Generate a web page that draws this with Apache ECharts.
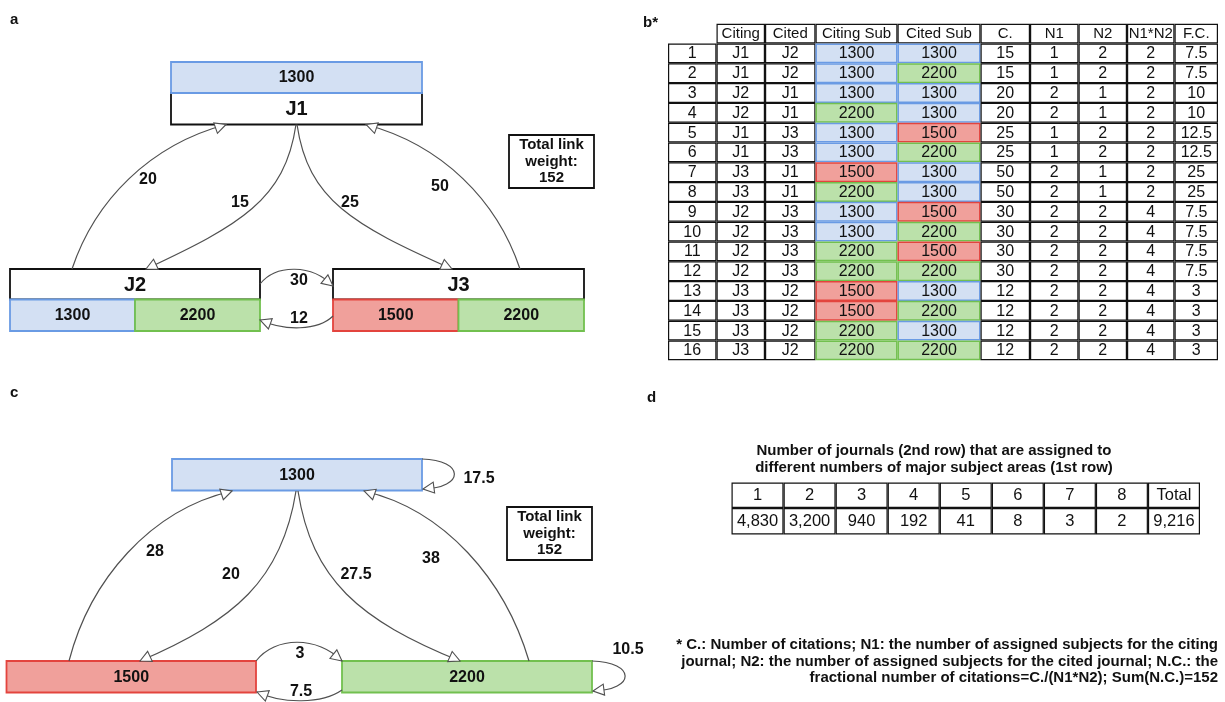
<!DOCTYPE html>
<html><head><meta charset="utf-8">
<script src="https://cdn.jsdelivr.net/npm/echarts@6/dist/echarts.min.js"></script>
<style>html,body{margin:0;padding:0;background:#fff}#c{width:1225px;height:702px}</style>
</head><body><div id="c"></div>
<script>
// ================= DATA =================
// panel b table
const tableHeaders = ['Citing', 'Cited', 'Citing Sub', 'Cited Sub', 'C.', 'N1', 'N2', 'N1*N2', 'F.C.'];
const rowIds = [1, 2, 3, 4, 5, 6, 7, 8, 9, 10, 11, 12, 13, 14, 15, 16];
const citingJournal = ['J1','J1','J2','J2','J1','J1','J3','J3','J2','J2','J2','J2','J3','J3','J3','J3'];
const citedJournal  = ['J2','J2','J1','J1','J3','J3','J1','J1','J3','J3','J3','J3','J2','J2','J2','J2'];
const citingSubject = [1300,1300,1300,2200,1300,1300,1500,2200,1300,1300,2200,2200,1500,1500,2200,2200];
const citedSubject  = [1300,2200,1300,1300,1500,2200,1300,1300,1500,2200,1500,2200,1300,2200,1300,2200];
const citations = [15,15,20,20,25,25,50,50,30,30,30,30,12,12,12,12];
const n1 = [1,1,2,2,1,1,2,2,2,2,2,2,2,2,2,2];
const n2 = [2,2,1,1,2,2,1,1,2,2,2,2,2,2,2,2];
const n1n2 = [2,2,2,2,2,2,2,2,4,4,4,4,4,4,4,4];
const fractionalCitations = ['7.5','7.5','10','10','12.5','12.5','25','25','7.5','7.5','7.5','7.5','3','3','3','3'];

// panel a journal network
const journals = ['J1', 'J2', 'J3'];
const journalSubjects = [[1300], [1300, 2200], [1500, 2200]];
const journalLinkFrom = ['J2', 'J1', 'J1', 'J3', 'J2', 'J3'];
const journalLinkTo   = ['J1', 'J2', 'J3', 'J1', 'J3', 'J2'];
const journalLinkWeight = ['20', '15', '25', '50', '30', '12'];
const totalLinkWeight = 152;

// panel c subject network
const subjects = [1300, 1500, 2200];
const subjectLinkFrom = [1500, 1300, 1300, 2200, 1500, 2200, 1300, 2200];
const subjectLinkTo   = [1300, 1500, 2200, 1300, 2200, 1500, 1300, 2200];
const subjectLinkWeight = ['28', '20', '27.5', '38', '3', '7.5', '17.5', '10.5'];

// panel d
const subjectAreaCounts = ['1', '2', '3', '4', '5', '6', '7', '8', 'Total'];
const journalCounts = ['4,830', '3,200', '940', '192', '41', '8', '3', '2', '9,216'];
const dTitle = ['Number of journals (2nd row) that are assigned to', 'different numbers of major subject areas (1st row)'];
const footnote = [
  '* C.: Number of citations; N1: the number of assigned subjects for the citing',
  'journal; N2: the number of assigned subjects for the cited journal; N.C.: the',
  'fractional number of citations=C./(N1*N2); Sum(N.C.)=152'
];

// ================= LAYOUT / STYLE =================
const FONT = '"Liberation Sans", Arial, Helvetica, sans-serif';
const TXT = '#111';
const LINK = '#505050';
const SUB_STYLE = {
  1300: { fill: '#d3e0f3', stroke: '#6a9be4' },
  1500: { fill: '#f0a09b', stroke: '#e3443e' },
  2200: { fill: '#bbe1aa', stroke: '#72c04f' }
};
const journalBoxLayout = {
  J1: { x0: 171, x1: 422, name: [93, 124.5], sub: [62, 93] },
  J2: { x0: 10, x1: 260, name: [269, 299.5], sub: [299.5, 331] },
  J3: { x0: 333, x1: 584, name: [269, 299.5], sub: [299.5, 331] }
};
const journalEdgeGeom = [
  { p: [[72, 269], [95, 200], [150, 145], [226, 124.5]], lab: [148, 180] },
  { p: [[296, 124.5], [285, 200], [240, 225], [146, 269]], lab: [240, 203] },
  { p: [[297, 124.5], [308, 200], [353, 225], [452, 269]], lab: [350, 203] },
  { p: [[520, 269], [497, 200], [442, 145], [366, 124.5]], lab: [440, 187] },
  { p: [[260, 284], [276, 264], [312, 264], [333, 286]], lab: [299, 281] },
  { p: [[333, 316], [318, 331], [284, 331], [260, 320]], lab: [299, 319] }
];
const subjectBoxLayout = {
  1300: { x0: 172, x1: 422, y0: 459, y1: 490.5 },
  1500: { x0: 6.5, x1: 256, y0: 661, y1: 692.5 },
  2200: { x0: 342, x1: 592, y0: 661, y1: 692.5 }
};
const subjectEdgeGeom = [
  { p: [[69, 661], [90, 580], [150, 510], [232, 491]], lab: [155, 552] },
  { p: [[296, 491], [282, 580], [235, 620], [140, 661]], lab: [231, 575] },
  { p: [[298, 491], [312, 580], [359, 620], [460, 661]], lab: [356, 575] },
  { p: [[529, 661], [505, 580], [445, 510], [364, 491]], lab: [431, 559] },
  { p: [[256, 661], [275, 636], [318, 636], [342, 661]], lab: [300, 654] },
  { p: [[342, 690], [322, 704], [282, 704], [257, 692]], lab: [301, 692] },
  { p: [[422, 459], [465, 460], [465, 488], [423, 489]], lab: [479, 479] },
  { p: [[592, 661], [636, 662], [636, 690], [593, 691]], lab: [628, 650] }
];
const tableB = { colEdges: [668, 716.5, 765, 815.5, 897.5, 980.5, 1030, 1078.5, 1127, 1174.5, 1218], top: 23.7, rowH: 19.8 };
const tableD = { x0: 731.5, x1: 1200, rows: [482.5, 508, 534.5] };

// ================= HELPERS =================
function txt(api, x, y, s, size, weight, align) {
  const p = api.coord([x, y]);
  return { type: 'text', style: { text: String(s), x: p[0], y: p[1], fill: TXT, fontSize: size,
    fontWeight: weight || 'normal', fontFamily: FONT, align: align || 'center', verticalAlign: 'middle' } };
}
function rct(api, x0, y0, x1, y1, fill, stroke, lw) {
  const a = api.coord([x0, y0]), b = api.coord([x1, y1]);
  return { type: 'rect', shape: { x: Math.min(a[0], b[0]), y: Math.min(a[1], b[1]),
    width: Math.abs(b[0] - a[0]), height: Math.abs(b[1] - a[1]) },
    style: { fill: fill, stroke: stroke, lineWidth: lw } };
}
function bez(q, t) {
  const u = 1 - t;
  return [u*u*u*q[0][0] + 3*u*u*t*q[1][0] + 3*u*t*t*q[2][0] + t*t*t*q[3][0],
          u*u*u*q[0][1] + 3*u*u*t*q[1][1] + 3*u*t*t*q[2][1] + t*t*t*q[3][1]];
}
function edgeEl(api, geom, label) {
  const q = geom.p.map(pt => api.coord(pt));
  const tip = q[3], prev = bez(q, 0.85);
  let dx = tip[0] - prev[0], dy = tip[1] - prev[1];
  const n = Math.hypot(dx, dy) || 1; dx /= n; dy /= n;
  const L = 11, W = 5.5;
  const bx = tip[0] - dx * L, by = tip[1] - dy * L;
  return { type: 'group', children: [
    { type: 'bezierCurve', shape: { x1: q[0][0], y1: q[0][1], cpx1: q[1][0], cpy1: q[1][1],
      cpx2: q[2][0], cpy2: q[2][1], x2: q[3][0], y2: q[3][1] },
      style: { stroke: LINK, fill: null, lineWidth: 1.2 } },
    { type: 'polygon', shape: { points: [tip, [bx - dy * W, by + dx * W], [bx + dy * W, by - dx * W]] },
      style: { fill: '#fff', stroke: LINK, lineWidth: 1.1 } },
    txt(api, geom.lab[0], geom.lab[1], label, 16, 'bold')
  ] };
}
const idxData = n => Array.from({ length: n }, (_, i) => [i, 0]);

// ================= SERIES =================
const journalBoxes = {
  type: 'custom', coordinateSystem: 'cartesian2d', silent: true, z: 3,
  data: idxData(journals.length),
  renderItem: (params, api) => {
    const j = journals[params.dataIndex], lay = journalBoxLayout[j];
    const subs = journalSubjects[params.dataIndex];
    const ch = [];
    ch.push(rct(api, lay.x0, lay.name[0], lay.x1, lay.name[1], '#fff', '#111', 1.8));
    ch.push(txt(api, (lay.x0 + lay.x1) / 2, (lay.name[0] + lay.name[1]) / 2 + 1, j, 20, 'bold'));
    const w = (lay.x1 - lay.x0) / subs.length;
    subs.forEach((s, k) => {
      const x0 = lay.x0 + k * w, x1 = x0 + w, st = SUB_STYLE[s];
      ch.push(rct(api, x0, lay.sub[0], x1, lay.sub[1], st.fill, st.stroke, 1.8));
      ch.push(txt(api, (x0 + x1) / 2, (lay.sub[0] + lay.sub[1]) / 2 + 0.5, s, 16, 'bold'));
    });
    return { type: 'group', children: ch };
  }
};
const journalEdges = {
  type: 'custom', coordinateSystem: 'cartesian2d', silent: true, z: 4,
  data: idxData(journalLinkWeight.length),
  renderItem: (params, api) => edgeEl(api, journalEdgeGeom[params.dataIndex], journalLinkWeight[params.dataIndex])
};
const subjectBoxes = {
  type: 'custom', coordinateSystem: 'cartesian2d', silent: true, z: 3,
  data: idxData(subjects.length),
  renderItem: (params, api) => {
    const s = subjects[params.dataIndex], lay = subjectBoxLayout[s], st = SUB_STYLE[s];
    return { type: 'group', children: [
      rct(api, lay.x0, lay.y0, lay.x1, lay.y1, st.fill, st.stroke, 1.8),
      txt(api, (lay.x0 + lay.x1) / 2, (lay.y0 + lay.y1) / 2 + 0.5, s, 16, 'bold')
    ] };
  }
};
const subjectEdges = {
  type: 'custom', coordinateSystem: 'cartesian2d', silent: true, z: 4,
  data: idxData(subjectLinkWeight.length),
  renderItem: (params, api) => edgeEl(api, subjectEdgeGeom[params.dataIndex], subjectLinkWeight[params.dataIndex])
};
const columnsB = [rowIds, citingJournal, citedJournal, citingSubject, citedSubject, citations, n1, n2, n1n2, fractionalCitations];
const cellsB = [];
for (let c = 1; c < 10; c++) cellsB.push([c, -1]);
for (let r = 0; r < rowIds.length; r++) for (let c = 0; c < 10; c++) cellsB.push([c, r]);
const tableBSeries = {
  type: 'custom', coordinateSystem: 'cartesian2d', silent: true, z: 2,
  data: cellsB.map((d, i) => [i, 0]),
  renderItem: (params, api) => {
    const [c, r] = cellsB[params.dataIndex];
    const x0 = tableB.colEdges[c], x1 = tableB.colEdges[c + 1];
    const y0 = tableB.top + (r + 1) * tableB.rowH, y1 = y0 + tableB.rowH;
    let label, fill = '#fff', stroke = '#111';
    if (r < 0) label = tableHeaders[c - 1];
    else {
      label = columnsB[c][r];
      if (c === 3 || c === 4) { fill = SUB_STYLE[label].fill; stroke = SUB_STYLE[label].stroke; }
    }
    const black = stroke === '#111';
    const inset = black ? 0.6 : 0.7;
    return { type: 'group', z2: black ? 1 : 2, children: [
      rct(api, x0 + inset, y0 + inset, x1 - inset, y1 - inset, fill, stroke, black ? 1.2 : 1.5),
      txt(api, (x0 + x1) / 2, (y0 + y1) / 2 + 0.5, label, r < 0 ? 15 : 16, 'normal')
    ] };
  }
};
const cellsD = [];
for (let r = 0; r < 2; r++) for (let c = 0; c < subjectAreaCounts.length; c++) cellsD.push([c, r]);
const tableDSeries = {
  type: 'custom', coordinateSystem: 'cartesian2d', silent: true, z: 2,
  data: cellsD.map((d, i) => [i, 0]),
  renderItem: (params, api) => {
    const [c, r] = cellsD[params.dataIndex];
    const w = (tableD.x1 - tableD.x0) / subjectAreaCounts.length;
    const x0 = tableD.x0 + c * w, x1 = x0 + w, y0 = tableD.rows[r], y1 = tableD.rows[r + 1];
    const label = r === 0 ? subjectAreaCounts[c] : journalCounts[c];
    return { type: 'group', children: [
      rct(api, x0 + 0.6, y0 + 0.6, x1 - 0.6, y1 - 0.6, '#fff', '#111', 1.2),
      txt(api, (x0 + x1) / 2, (y0 + y1) / 2 + 0.5, label, 16.5, 'normal')
    ] };
  }
};
const textItems = [];
function gText(x, y, s, size, weight, align) {
  textItems.push({ type: 'text', x: x, y: y, silent: true, style: { text: s, fill: TXT, fontSize: size,
    fontWeight: weight, fontFamily: FONT, textAlign: align || 'left', textVerticalAlign: 'middle' } });
}
gText(10, 20, 'a', 15, 'bold');
gText(643, 23, 'b*', 15, 'bold');
gText(10, 393, 'c', 15, 'bold');
gText(647, 398, 'd', 15, 'bold');
dTitle.forEach((s, i) => gText(934, 451 + i * 16.6, s, 15, 'bold', 'center'));
footnote.forEach((s, i) => gText(1218, 645 + i * 16.4, s, 15, 'bold', 'right'));
function totalBox(x0, y0, x1, y1) {
  textItems.push({ type: 'rect', silent: true, shape: { x: x0, y: y0, width: x1 - x0, height: y1 - y0 },
    style: { fill: '#fff', stroke: '#111', lineWidth: 1.8 } });
  const cx = (x0 + x1) / 2, cy = (y0 + y1) / 2;
  gText(cx, cy - 16.5, 'Total link', 15, 'bold', 'center');
  gText(cx, cy, 'weight:', 15, 'bold', 'center');
  gText(cx, cy + 16.5, String(totalLinkWeight), 15, 'bold', 'center');
}
totalBox(509, 135, 594, 188);
totalBox(507, 507, 592, 560);

const chart = echarts.init(document.getElementById('c'), null, { renderer: 'canvas', width: 1225, height: 702 });
chart.setOption({
  animation: false,
  backgroundColor: '#fff',
  grid: { left: 0, right: 0, top: 0, bottom: 0 },
  xAxis: { type: 'value', min: 0, max: 1225, show: false },
  yAxis: { type: 'value', min: 0, max: 702, inverse: true, show: false },
  graphic: { elements: textItems },
  series: [journalEdges, journalBoxes, subjectEdges, subjectBoxes, tableBSeries, tableDSeries]
});
</script></body></html>
